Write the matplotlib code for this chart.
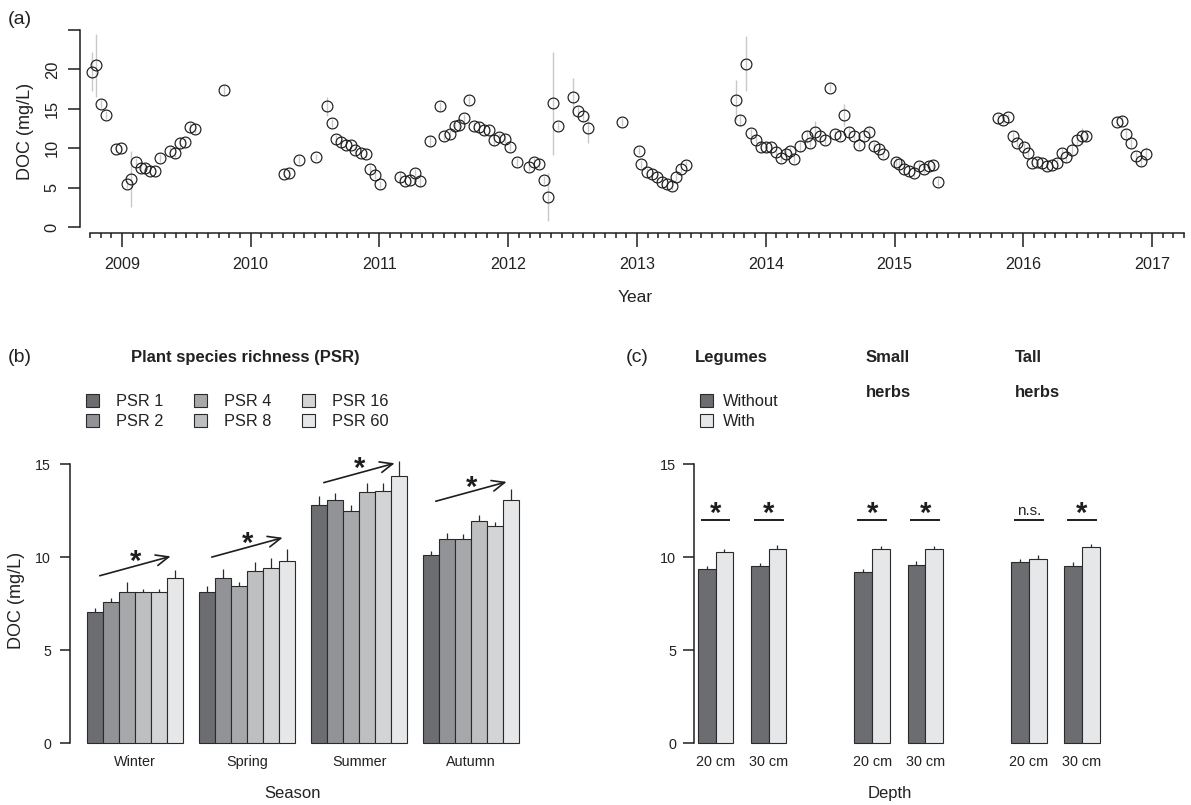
import matplotlib
matplotlib.use("Agg")
import matplotlib.pyplot as plt
from matplotlib.patches import Patch
import numpy as np

plt.rcParams['font.family'] = ['Liberation Sans', 'DejaVu Sans']

# ---------------- data: panel (a) ----------------
dates = [
    2008.765, 2008.800, 2008.839, 2008.878, 2008.953, 2008.995, 2009.037, 2009.072, 2009.106, 2009.145,
    2009.181, 2009.220, 2009.259, 2009.297, 2009.373, 2009.414, 2009.450, 2009.489, 2009.528, 2009.569,
    2009.795,
    2010.261, 2010.299, 2010.377, 2010.507, 2010.590, 2010.629, 2010.664, 2010.701, 2010.737, 2010.776,
    2010.812, 2010.854, 2010.893, 2010.929, 2010.967, 2011.006,
    2011.159, 2011.198, 2011.237, 2011.276, 2011.312, 2011.390, 2011.468, 2011.503, 2011.548, 2011.584,
    2011.620, 2011.659, 2011.697, 2011.734, 2011.773, 2011.812, 2011.853, 2011.892, 2011.930, 2011.972,
    2012.014, 2012.068, 2012.161, 2012.200, 2012.239, 2012.278, 2012.309, 2012.348, 2012.386, 2012.503,
    2012.539, 2012.578, 2012.617, 2012.883,
    2013.012, 2013.031, 2013.078, 2013.114, 2013.153, 2013.192, 2013.231, 2013.272, 2013.305, 2013.344,
    2013.383,
    2013.767, 2013.802, 2013.847, 2013.883, 2013.922, 2013.961, 2014.000, 2014.038, 2014.077, 2014.116,
    2014.155, 2014.191, 2014.217, 2014.268, 2014.318, 2014.346, 2014.383, 2014.424, 2014.460, 2014.499,
    2014.536, 2014.574, 2014.610, 2014.649, 2014.688, 2014.727, 2014.765, 2014.804, 2014.841, 2014.877,
    2014.913, 2015.012, 2015.035, 2015.074, 2015.110, 2015.149, 2015.188, 2015.229, 2015.266, 2015.301,
    2015.340,
    2015.802, 2015.839, 2015.879, 2015.918, 2015.954, 2016.008, 2016.035, 2016.070, 2016.109, 2016.148,
    2016.187, 2016.226, 2016.264, 2016.301, 2016.332, 2016.379, 2016.417, 2016.456, 2016.490, 2016.730,
    2016.767, 2016.800, 2016.837, 2016.876, 2016.915, 2016.953]

doc = [
    19.7, 20.5, 15.6, 14.2, 9.9, 10.0, 5.5, 6.1, 8.2, 7.5,
    7.5, 7.1, 7.1, 8.8, 9.6, 9.4, 10.6, 10.8, 12.7, 12.4,
    17.4,
    6.7, 6.9, 8.5, 8.9, 15.3, 13.2, 11.2, 10.8, 10.4, 10.4,
    9.8, 9.4, 9.2, 7.4, 6.6, 5.4,
    6.4, 5.8, 6.0, 6.8, 5.8, 10.9, 15.3, 11.6, 11.8, 12.8,
    12.9, 13.8, 16.1, 12.8, 12.7, 12.3, 12.3, 11.1, 11.4, 11.2,
    10.2, 8.3, 7.6, 8.3, 8.0, 6.0, 3.8, 15.7, 12.8, 16.5,
    14.7, 14.1, 12.6, 13.3,
    9.7, 8.0, 7.0, 6.7, 6.3, 5.7, 5.5, 5.2, 6.4, 7.4,
    7.9,
    16.1, 13.6, 20.7, 11.9, 11.1, 10.2, 10.2, 10.2, 9.5, 8.8,
    9.3, 9.7, 8.6, 10.3, 11.5, 10.7, 12.1, 11.6, 11.0, 17.7,
    11.8, 11.5, 14.2, 12.1, 11.5, 10.4, 11.5, 12.1, 10.3, 9.9,
    9.2, 8.3, 8.0, 7.4, 7.1, 6.9, 7.8, 7.3, 7.7, 7.9,
    5.7,
    13.8, 13.6, 13.9, 11.5, 10.7, 10.2, 9.4, 8.1, 8.3, 8.1,
    7.7, 7.9, 8.1, 9.4, 8.9, 9.8, 11.0, 11.5, 11.5, 13.3,
    13.5, 11.8, 10.6, 9.0, 8.4, 9.3]

doc_se = [
    2.45, 3.95, 0.5, 0.5, 0.4, 0.4, 0.5, 3.55, 0.5, 0.4,
    0.4, 0.4, 0.4, 0.5, 0.5, 0.6, 0.8, 0.5, 0.5, 0.5,
    0.6,
    0.4, 0.4, 0.5, 0.4, 1.25, 0.5, 0.5, 0.5, 0.5, 0.5,
    0.5, 0.5, 0.5, 0.5, 0.5, 0.5,
    0.7, 0.5, 0.5, 0.5, 0.7, 0.6, 0.6, 0.5, 0.5, 0.5,
    0.5, 0.5, 0.5, 0.5, 0.5, 0.5, 0.5, 0.8, 0.5, 0.5,
    0.5, 0.5, 0.5, 0.5, 0.5, 0.5, 3.05, 6.55, 0.5, 2.45,
    0.6, 0.8, 1.9, 0.5,
    0.5, 0.5, 0.5, 0.5, 0.5, 0.5, 0.5, 0.5, 0.5, 0.5,
    0.5,
    2.5, 0.6, 3.5, 0.5, 0.5, 0.5, 0.5, 0.5, 0.5, 0.5,
    0.5, 0.5, 0.5, 0.8, 0.8, 0.6, 1.4, 0.6, 0.6, 0.5,
    0.5, 0.5, 1.4, 0.6, 0.5, 0.5, 0.8, 0.7, 0.5, 0.5,
    0.5, 0.5, 0.5, 0.5, 0.5, 0.5, 0.5, 0.5, 0.5, 0.5,
    0.5,
    0.5, 0.5, 0.5, 0.5, 0.5, 0.5, 0.5, 0.5, 0.5, 0.5,
    0.5, 0.5, 0.5, 0.6, 0.8, 1.0, 0.6, 1.0, 0.5, 0.5,
    0.6, 0.6, 0.6, 0.6, 0.6, 0.9]

year_ticks = [2009, 2010, 2011, 2012, 2013, 2014, 2015, 2016, 2017]

# ---------------- data: panel (b) ----------------
seasons = ['Winter', 'Spring', 'Summer', 'Autumn']
psr_labels = ['PSR 1', 'PSR 2', 'PSR 4', 'PSR 8', 'PSR 16', 'PSR 60']
psr_colors = ['#6c6d71', '#929396', '#a7a8aa', '#bebfc1', '#d3d4d5', '#e6e7e8']
psr_means = [
    [7.07, 7.59, 8.11, 8.11, 8.14, 8.89],      # Winter
    [8.11, 8.88, 8.45, 9.24, 9.40, 9.77],      # Spring
    [12.82, 13.05, 12.49, 13.50, 13.57, 14.34],  # Summer
    [10.11, 10.97, 10.97, 11.96, 11.67, 13.05],  # Autumn
]
psr_se = [
    [0.18, 0.20, 0.54, 0.19, 0.17, 0.42],
    [0.34, 0.46, 0.23, 0.48, 0.57, 0.66],
    [0.48, 0.41, 0.33, 0.46, 0.39, 0.82],
    [0.23, 0.31, 0.27, 0.30, 0.23, 0.61],
]
trend_start = [9.0, 10.0, 14.0, 13.0]   # level of trend arrows (mg/L)

# ---------------- data: panel (c) ----------------
groups = ['Legumes', 'Small\nherbs', 'Tall\nherbs']
depths = ['20 cm', '30 cm']
treat_labels = ['Without', 'With']
treat_colors = ['#6c6d71', '#e6e7e8']
mean_without = [[9.36, 9.50], [9.22, 9.58], [9.75, 9.50]]
mean_with = [[10.27, 10.45], [10.45, 10.42], [9.91, 10.53]]
se_without = [[0.14, 0.18], [0.16, 0.21], [0.15, 0.22]]
se_with = [[0.18, 0.20], [0.16, 0.16], [0.19, 0.19]]
sig = [['*', '*'], ['*', '*'], ['n.s.', '*']]
sig_level = 12.0

# ---------------- figure ----------------
W, H = 1191, 805
fig = plt.figure(figsize=(W / 100, H / 100), dpi=100)


def box(l, t, r, b):
    return [l / W, 1 - b / H, (r - l) / W, (b - t) / H]


def fx(x):
    return x / W


def fy(y):
    return 1 - y / H


ink = '#1e1e1e'
SPW = 1.1

# ---- panel (a) ----
axa = fig.add_axes(box(80, 25, 1190, 233))
axa.errorbar(dates, doc, yerr=doc_se, fmt='none', ecolor='#c9c9c9', elinewidth=1.0, zorder=1)
axa.plot(dates, doc, 'o', mfc='none', mec=ink, ms=7.8, mew=0.85, zorder=2)
axa.set_xlim(2008.674, 2017.295)
axa.set_ylim(-0.761, 25.63)
for s in ['top', 'right']:
    axa.spines[s].set_visible(False)
for s in ['left', 'bottom']:
    axa.spines[s].set_linewidth(SPW)
    axa.spines[s].set_color(ink)
axa.spines['left'].set_bounds(0, 25)
axa.spines['bottom'].set_bounds(2008.75, 2017.25)
axa.set_yticks([0, 5, 10, 15, 20, 25])
axa.set_yticklabels(['0', '5', '10', '15', '20', ''], rotation=90, va='center')
axa.set_xticks(year_ticks)
axa.set_xticklabels([str(y) for y in year_ticks])
axa.set_xticks(np.arange(2008.75, 2017.26, 1 / 12), minor=True)
axa.tick_params(axis='x', which='major', length=10, width=SPW, pad=7, labelsize=11.6, color=ink, labelcolor='#222222')
axa.tick_params(axis='x', which='minor', length=3.8, width=SPW, color=ink)
axa.tick_params(axis='y', length=8.6, width=SPW, pad=6, labelsize=11.8, color=ink, labelcolor='#222222')
fig.text(fx(635), fy(297), 'Year', ha='center', va='center', fontsize=12.5, color='#222222')
fig.text(fx(25), fy(131), 'DOC (mg/L)', ha='center', va='center', rotation=90, fontsize=13, color='#222222')
fig.text(fx(8), fy(20), '(a)', ha='left', va='center', fontsize=14, color='#222222')

# ---- panel (b) ----
ub0, ubw = 71.3, 16.0           # pixel of unit 0, pixel per bar
y0px, ypx = 743.3, 18.62        # pixel of DOC=0, pixel per mg/L
axb = fig.add_axes(box(70, 453, 537, 754))
axb.set_xlim((70 - ub0) / ubw, (537 - ub0) / ubw)
axb.set_ylim((y0px - 754) / ypx, (y0px - 453) / ypx)
nps = len(psr_labels)
for g, season in enumerate(seasons):
    for i in range(nps):
        left = 1 + (nps + 1) * g + i
        axb.bar(left, psr_means[g][i], width=1, align='edge', color=psr_colors[i],
                edgecolor='#2a2a2a', linewidth=0.8, zorder=2)
        axb.vlines(left + 0.5, psr_means[g][i], psr_means[g][i] + psr_se[g][i],
                   color='#2a2a2a', lw=0.9, zorder=3)
    gs = 1 + (nps + 1) * g
    axb.annotate('', xy=(gs + 5.21, trend_start[g] + 1.04), xytext=(gs + 0.78, trend_start[g]),
                 arrowprops=dict(arrowstyle='->,head_length=0.7,head_width=0.3', lw=1.2,
                                 color=ink, mutation_scale=13, shrinkA=0, shrinkB=0),
                 annotation_clip=False)
    axb.text(gs + nps / 2, trend_start[g] + 0.73, '*', ha='center', va='center',
             fontsize=21, fontweight='bold', color=ink, clip_on=False)
axb.set_xticks([1 + (nps + 1) * g + nps / 2 for g in range(len(seasons))])
axb.set_xticklabels(seasons)
for s in ['top', 'right', 'bottom']:
    axb.spines[s].set_visible(False)
axb.spines['left'].set_linewidth(SPW)
axb.spines['left'].set_color(ink)
axb.spines['left'].set_bounds(0, 15)
axb.set_yticks([0, 5, 10, 15])
axb.tick_params(axis='x', length=0, pad=0.5, labelsize=10.4, labelcolor='#222222')
axb.tick_params(axis='y', length=7.2, width=SPW, pad=6.5, labelsize=10.2, color=ink, labelcolor='#222222')
fig.text(fx(293), fy(793), 'Season', ha='center', va='center', fontsize=12, color='#222222')
fig.text(fx(17), fy(600), 'DOC (mg/L)', ha='center', va='center', rotation=90, fontsize=13, color='#222222')
fig.text(fx(8), fy(357), '(b)', ha='left', va='center', fontsize=14, color='#222222')
fig.text(fx(245), fy(357), 'Plant species richness (PSR)', ha='center', va='center',
         fontsize=12, fontweight='bold', color='#222222')
hb = [Patch(facecolor=c, edgecolor='#2a2a2a', linewidth=0.8) for c in psr_colors]
fig.legend(hb, psr_labels, ncol=3, loc='upper left', bbox_to_anchor=(fx(86), fy(394)),
           frameon=False, fontsize=11.8, handlelength=0.8, handleheight=0.8,
           handletextpad=1.0, columnspacing=1.9, labelspacing=0.33, borderpad=0,
           borderaxespad=0, labelcolor='#222222')

# ---- panel (c) ----
uc0, ucw = 0.8, 17.7
cl, cr = 694.3, 1105
axc = fig.add_axes(box(cl, 453, cr, 754))
axc.set_xlim(uc0, uc0 + (cr - cl) / ucw)
axc.set_ylim((y0px - 754) / ypx, (y0px - 453) / ypx)
blk = 8.85
xt, xl = [], []
for b, gname in enumerate(groups):
    for d, dep in enumerate(depths):
        left = 1 + blk * b + 3 * d
        vals = [mean_without[b][d], mean_with[b][d]]
        ses = [se_without[b][d], se_with[b][d]]
        for t in range(2):
            axc.bar(left + t, vals[t], width=1, align='edge', color=treat_colors[t],
                    edgecolor='#2a2a2a', linewidth=0.8, zorder=2)
            axc.vlines(left + t + 0.5, vals[t], vals[t] + ses[t], color='#2a2a2a', lw=0.9, zorder=3)
        cen = left + 1
        xt.append(cen)
        xl.append(dep)
        axc.hlines(sig_level, cen - 0.84, cen + 0.84, color=ink, lw=1.4, clip_on=False)
        if sig[b][d] == '*':
            axc.text(cen, sig_level + 0.30, '*', ha='center', va='center', fontsize=21,
                     fontweight='bold', color=ink, clip_on=False)
        else:
            axc.text(cen, sig_level + 0.12, sig[b][d], ha='center', va='bottom', fontsize=11,
                     color='#222222', clip_on=False)
axc.set_xticks(xt)
axc.set_xticklabels(xl)
for s in ['top', 'right', 'bottom']:
    axc.spines[s].set_visible(False)
axc.spines['left'].set_linewidth(SPW)
axc.spines['left'].set_color(ink)
axc.spines['left'].set_bounds(0, 15)
axc.set_yticks([0, 5, 10, 15])
axc.tick_params(axis='x', length=0, pad=0.5, labelsize=10.4, labelcolor='#222222')
axc.tick_params(axis='y', length=7.7, width=SPW, pad=5.5, labelsize=10.4, color=ink, labelcolor='#222222')
fig.text(fx(890), fy(793), 'Depth', ha='center', va='center', fontsize=12, color='#222222')
fig.text(fx(626), fy(357), '(c)', ha='left', va='center', fontsize=14, color='#222222')
title_x = [695, 866, 1015]
for b, gname in enumerate(groups):
    for k, line in enumerate(gname.split('\n')):
        fig.text(fx(title_x[b]), fy(357 + 35.7 * k), line, ha='left', va='center',
                 fontsize=12, fontweight='bold', color='#222222')
hc = [Patch(facecolor=c, edgecolor='#2a2a2a', linewidth=0.8) for c in treat_colors]
fig.legend(hc, treat_labels, ncol=1, loc='upper left', bbox_to_anchor=(fx(699.5), fy(394)),
           frameon=False, fontsize=11.8, handlelength=0.8, handleheight=0.8,
           handletextpad=0.65, labelspacing=0.33, borderpad=0, borderaxespad=0,
           labelcolor='#222222')

fig.savefig('out.png', dpi=100)
